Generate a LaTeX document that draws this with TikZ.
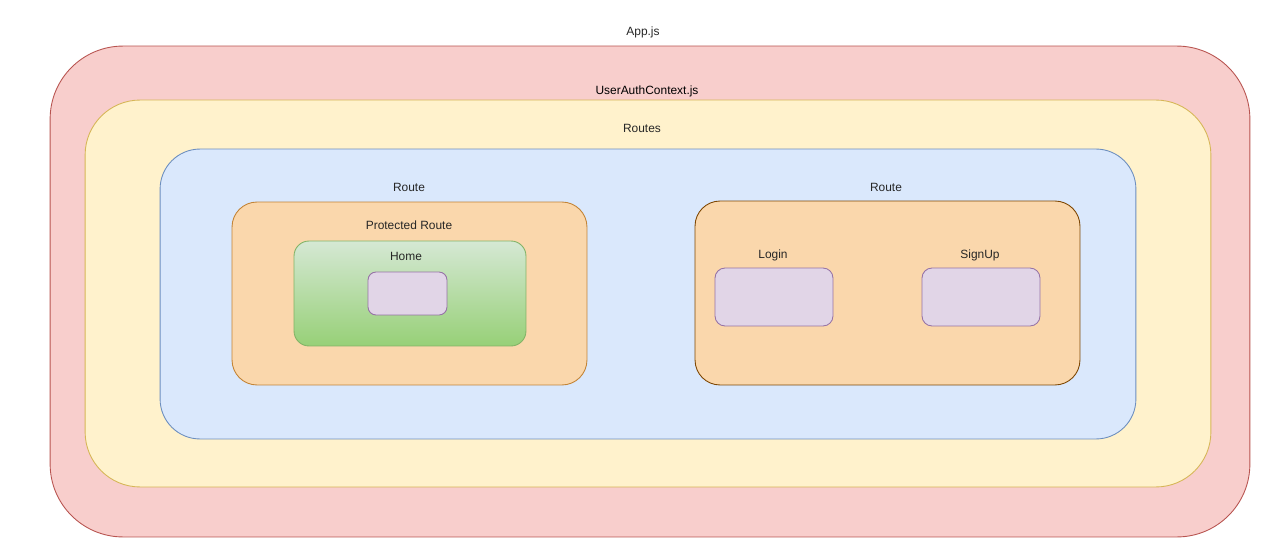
\documentclass[tikz,border=0pt]{standalone}
\usepackage{fontspec}
\setmainfont{Liberation Sans}
\usetikzlibrary{positioning}

\definecolor{appfill}{HTML}{F8CECC}
\definecolor{appline}{HTML}{B85450}
\definecolor{ctxfill}{HTML}{FFF2CC}
\definecolor{ctxline}{HTML}{D6B656}
\definecolor{routesfill}{HTML}{DAE8FC}
\definecolor{routesline}{HTML}{6C8EBF}
\definecolor{routefill}{HTML}{FAD7AC}
\definecolor{routeline}{HTML}{B46504}
\definecolor{homefill}{HTML}{D5E8D4}
\definecolor{homefillb}{HTML}{97D077}
\definecolor{homeline}{HTML}{82B366}
\definecolor{pagefill}{HTML}{E1D5E7}
\definecolor{pageline}{HTML}{9673A6}

\tikzset{
  box/.style={draw, rectangle, inner sep=0pt, outer sep=0pt, line width=0.5pt},
  txt/.style={inner sep=0pt, font=\fontsize{6.8}{8}\selectfont, text=black!85},
}

\begin{document}
\begin{tikzpicture}[x=0.02cm, y=-0.02cm]
		\useasboundingbox (0, 0) rectangle (1288, 541);
		\node[box, minimum width=24cm, minimum height=9.82cm, rounded corners=1.46cm, draw=appline, fill=appfill] (app) at (650, 291.5) {};
		\node[box, minimum width=22.52cm, minimum height=7.74cm, rounded corners=1.1cm, draw=ctxline, fill=ctxfill] (context) at (648, 293.5) {};
		\node[box, minimum width=19.52cm, minimum height=5.8cm, rounded corners=0.8cm, draw=routesline, fill=routesfill] (routes) at (648, 294) {};
		\node[box, minimum width=7.1cm, minimum height=3.66cm, rounded corners=0.5cm, draw=routeline!80, fill=routefill] (protected) at (409.5, 293.5) {};
		\node[box, minimum width=7.7cm, minimum height=3.68cm, rounded corners=0.5cm, draw=routeline!70!black, fill=routefill] (public) at (887.5, 293) {};
		\node[box, minimum width=4.64cm, minimum height=2.1cm, rounded corners=0.3cm, draw=homeline, top color=homefill, bottom color=homefillb] (home) at (410, 293.5) {};
		\node[box, minimum width=1.58cm, minimum height=0.86cm, rounded corners=0.16cm, draw=pageline, fill=pagefill] (homepage) at (407.5, 293.5) {};
		\node[box, minimum width=2.36cm, minimum height=1.16cm, rounded corners=0.2cm, draw=pageline, fill=pagefill] (login) at (774, 297) {};
		\node[box, minimum width=2.36cm, minimum height=1.16cm, rounded corners=0.2cm, draw=pageline, fill=pagefill] (signup) at (981, 297) {};
		% titles
		\node[txt] (apptitle) at (643, 32) {App.js};
		\node[txt, text=black] (contexttitle) at (647, 91) {UserAuthContext.js};
		\node[txt] (routestitle) at (642, 128) {Routes};
		\node[txt] (protectedtitle) at (409, 187) {Route};
		\node[txt] (publictitle) at (886, 187) {Route};
		\node[txt] (protectedlabel) at (409, 225) {Protected Route};
		\node[txt] (hometitle) at (406, 256) {Home};
		\node[txt] (logintitle) at (773, 255) {Login};
		\node[txt] (signuptitle) at (980, 255) {SignUp};
	\end{tikzpicture}
\end{document}
